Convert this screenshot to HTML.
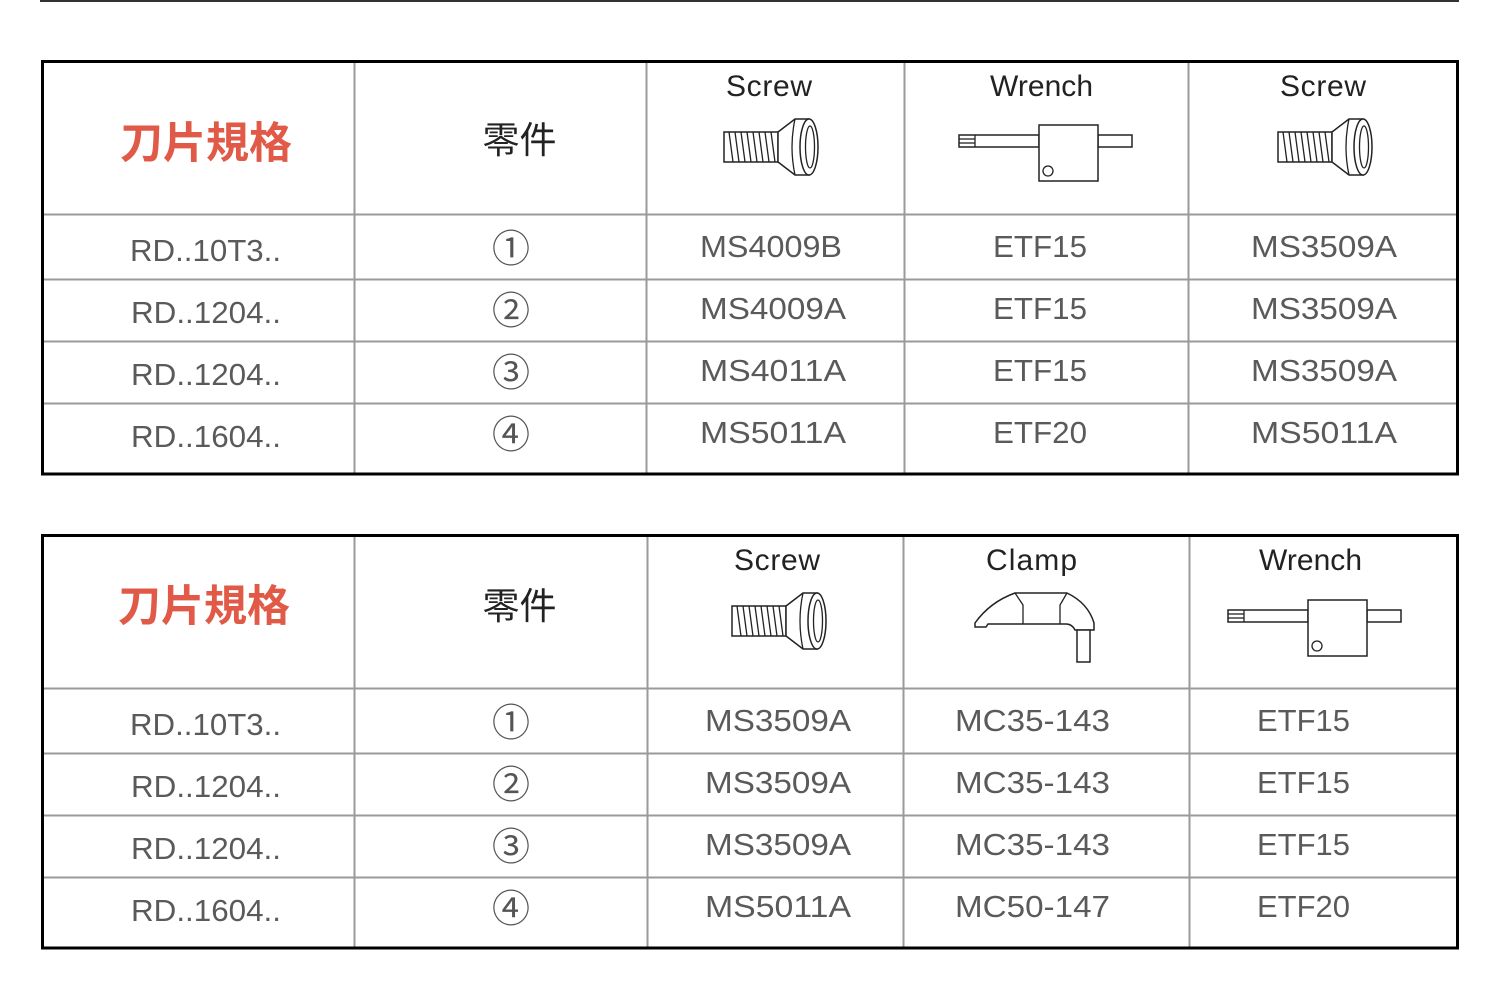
<!DOCTYPE html>
<html><head><meta charset="utf-8"><style>
html,body{margin:0;padding:0;background:#fff;}
svg{display:block;}
text{font-family:"Liberation Sans","Noto Sans CJK JP",sans-serif;}
.d{font-size:31px;fill:#5a5a5a;}
.h{font-size:30px;fill:#222;}
.c{font-family:"Noto Sans CJK JP","Liberation Sans",sans-serif;font-size:38px;fill:#555;}
.r{font-family:"Noto Sans CJK JP",sans-serif;font-size:43px;font-weight:bold;fill:#e05a47;}
.z{font-family:"Noto Sans CJK JP",sans-serif;font-size:37px;fill:#222;}
.ic{fill:#fff;stroke:#222;stroke-width:1.5;}
.il{fill:none;stroke:#222;stroke-width:1.3;}
</style></head><body>
<svg width="1500" height="1008" viewBox="0 0 1500 1008" xmlns="http://www.w3.org/2000/svg">
<defs>
<g id="screw">
  <rect class="ic" x="724" y="132" width="54" height="30"/>
  <g class="il">
    <line x1="729" y1="132" x2="733" y2="162"/>
    <line x1="735" y1="132" x2="739" y2="162"/>
    <line x1="741" y1="132" x2="745" y2="162"/>
    <line x1="747" y1="132" x2="751" y2="162"/>
    <line x1="753" y1="132" x2="757" y2="162"/>
    <line x1="759" y1="132" x2="763" y2="162"/>
    <line x1="765" y1="132" x2="769" y2="162"/>
    <line x1="771" y1="132" x2="775" y2="162"/>
  </g>
  <path class="ic" d="M778,132 L795,119 L809,119 L809,175 L795,175 L778,162 Z"/>
  <path class="il" d="M795,119 Q789,147 795,175"/>
  <ellipse class="ic" cx="809" cy="147" rx="9" ry="28"/>
  <ellipse class="il" cx="810" cy="147" rx="4.5" ry="21"/>
</g>
<g id="wrench">
  <rect class="ic" x="959" y="135" width="80" height="12"/>
  <line class="il" x1="975" y1="135" x2="975" y2="147"/>
  <line class="il" x1="959" y1="139" x2="975" y2="139"/>
  <line class="il" x1="959" y1="143" x2="975" y2="143"/>
  <rect class="ic" x="1098" y="135" width="34" height="12"/>
  <rect class="ic" x="1039" y="125" width="59" height="56"/>
  <circle class="il" cx="1048" cy="171" r="5"/>
</g>
</defs>

<!-- top rule -->
<rect x="40" y="0" width="1419" height="2" fill="#333"/>

<!-- ============ TABLE 1 ============ -->
<g stroke="#9a9a9a" stroke-width="2">
  <line x1="42" y1="214.5" x2="1457" y2="214.5"/>
  <line x1="42" y1="279.5" x2="1457" y2="279.5"/>
  <line x1="42" y1="341.5" x2="1457" y2="341.5"/>
  <line x1="42" y1="403.5" x2="1457" y2="403.5"/>
  <line x1="354.5" y1="62" x2="354.5" y2="474"/>
  <line x1="646.5" y1="62" x2="646.5" y2="474"/>
  <line x1="904.5" y1="62" x2="904.5" y2="474"/>
  <line x1="1188.5" y1="62" x2="1188.5" y2="474"/>
</g>
<rect x="42.5" y="61.5" width="1415" height="412.5" fill="none" stroke="#000" stroke-width="3"/>

<text class="r" x="206" y="158" text-anchor="middle">刀片規格</text>
<text class="z" x="519.5" y="153" text-anchor="middle">零件</text>
<text class="h" x="726" y="96" textLength="86" lengthAdjust="spacing">Screw</text>
<text class="h" x="990" y="96" textLength="103" lengthAdjust="spacing">Wrench</text>
<text class="h" x="1280" y="96" textLength="86" lengthAdjust="spacing">Screw</text>
<use href="#screw"/>
<use href="#wrench"/>
<use href="#screw" transform="translate(554,0)"/>

<g>
<text class="d" x="130" y="261" textLength="151" lengthAdjust="spacingAndGlyphs">RD..10T3..</text>
<text class="d" x="131" y="323" textLength="150" lengthAdjust="spacingAndGlyphs">RD..1204..</text>
<text class="d" x="131" y="385" textLength="150" lengthAdjust="spacingAndGlyphs">RD..1204..</text>
<text class="d" x="131" y="447" textLength="150" lengthAdjust="spacingAndGlyphs">RD..1604..</text>
<text class="c" x="511" y="262" text-anchor="middle">①</text>
<text class="c" x="511" y="324" text-anchor="middle">②</text>
<text class="c" x="511" y="386" text-anchor="middle">③</text>
<text class="c" x="511" y="448" text-anchor="middle">④</text>
<text class="d" x="700" y="257" textLength="142" lengthAdjust="spacingAndGlyphs">MS4009B</text>
<text class="d" x="700" y="319" textLength="146" lengthAdjust="spacingAndGlyphs">MS4009A</text>
<text class="d" x="700" y="381" textLength="146" lengthAdjust="spacingAndGlyphs">MS4011A</text>
<text class="d" x="700" y="443" textLength="146" lengthAdjust="spacingAndGlyphs">MS5011A</text>
<text class="d" x="993" y="257" textLength="94" lengthAdjust="spacingAndGlyphs">ETF15</text>
<text class="d" x="993" y="319" textLength="94" lengthAdjust="spacingAndGlyphs">ETF15</text>
<text class="d" x="993" y="381" textLength="94" lengthAdjust="spacingAndGlyphs">ETF15</text>
<text class="d" x="993" y="443" textLength="94" lengthAdjust="spacingAndGlyphs">ETF20</text>
<text class="d" x="1251" y="257" textLength="146" lengthAdjust="spacingAndGlyphs">MS3509A</text>
<text class="d" x="1251" y="319" textLength="146" lengthAdjust="spacingAndGlyphs">MS3509A</text>
<text class="d" x="1251" y="381" textLength="146" lengthAdjust="spacingAndGlyphs">MS3509A</text>
<text class="d" x="1251" y="443" textLength="146" lengthAdjust="spacingAndGlyphs">MS5011A</text>
</g>

<!-- ============ TABLE 2 ============ -->
<g stroke="#9a9a9a" stroke-width="2">
  <line x1="42" y1="688.5" x2="1457" y2="688.5"/>
  <line x1="42" y1="753.5" x2="1457" y2="753.5"/>
  <line x1="42" y1="815.5" x2="1457" y2="815.5"/>
  <line x1="42" y1="877.5" x2="1457" y2="877.5"/>
  <line x1="354.5" y1="536" x2="354.5" y2="948"/>
  <line x1="647.5" y1="536" x2="647.5" y2="948"/>
  <line x1="903.5" y1="536" x2="903.5" y2="948"/>
  <line x1="1189.5" y1="536" x2="1189.5" y2="948"/>
</g>
<rect x="42.5" y="535.5" width="1415" height="412.5" fill="none" stroke="#000" stroke-width="3"/>

<text class="r" x="204" y="621" text-anchor="middle">刀片規格</text>
<text class="z" x="519.5" y="619" text-anchor="middle">零件</text>
<text class="h" x="734" y="570" textLength="86" lengthAdjust="spacing">Screw</text>
<text class="h" x="986" y="570" textLength="91" lengthAdjust="spacing">Clamp</text>
<text class="h" x="1259" y="570" textLength="103" lengthAdjust="spacing">Wrench</text>
<use href="#screw" transform="translate(8,474)"/>
<g>
  <path class="ic" d="M1015,593 L1067,593 Q1088,603 1094,623 L1094,630 L1075,630 Q1072,624 1066,624 L988,624 L986,627 L975,627 L975,623 Q990,602 1015,593 Z"/>
  <rect class="ic" x="1077" y="630" width="13" height="32"/>
  <path class="il" d="M1015,593 L1023,605 L1023,624 M1067,593 L1060,605 L1060,624"/>
</g>
<use href="#wrench" transform="translate(269,475)"/>

<g>
<text class="d" x="130" y="735" textLength="151" lengthAdjust="spacingAndGlyphs">RD..10T3..</text>
<text class="d" x="131" y="797" textLength="150" lengthAdjust="spacingAndGlyphs">RD..1204..</text>
<text class="d" x="131" y="859" textLength="150" lengthAdjust="spacingAndGlyphs">RD..1204..</text>
<text class="d" x="131" y="921" textLength="150" lengthAdjust="spacingAndGlyphs">RD..1604..</text>
<text class="c" x="511" y="736" text-anchor="middle">①</text>
<text class="c" x="511" y="798" text-anchor="middle">②</text>
<text class="c" x="511" y="860" text-anchor="middle">③</text>
<text class="c" x="511" y="922" text-anchor="middle">④</text>
<text class="d" x="705" y="731" textLength="146" lengthAdjust="spacingAndGlyphs">MS3509A</text>
<text class="d" x="705" y="793" textLength="146" lengthAdjust="spacingAndGlyphs">MS3509A</text>
<text class="d" x="705" y="855" textLength="146" lengthAdjust="spacingAndGlyphs">MS3509A</text>
<text class="d" x="705" y="917" textLength="146" lengthAdjust="spacingAndGlyphs">MS5011A</text>
<text class="d" x="955" y="731" textLength="155" lengthAdjust="spacingAndGlyphs">MC35-143</text>
<text class="d" x="955" y="793" textLength="155" lengthAdjust="spacingAndGlyphs">MC35-143</text>
<text class="d" x="955" y="855" textLength="155" lengthAdjust="spacingAndGlyphs">MC35-143</text>
<text class="d" x="955" y="917" textLength="155" lengthAdjust="spacingAndGlyphs">MC50-147</text>
<text class="d" x="1257" y="731" textLength="93" lengthAdjust="spacingAndGlyphs">ETF15</text>
<text class="d" x="1257" y="793" textLength="93" lengthAdjust="spacingAndGlyphs">ETF15</text>
<text class="d" x="1257" y="855" textLength="93" lengthAdjust="spacingAndGlyphs">ETF15</text>
<text class="d" x="1257" y="917" textLength="93" lengthAdjust="spacingAndGlyphs">ETF20</text>
</g>
</svg>
</body></html>
